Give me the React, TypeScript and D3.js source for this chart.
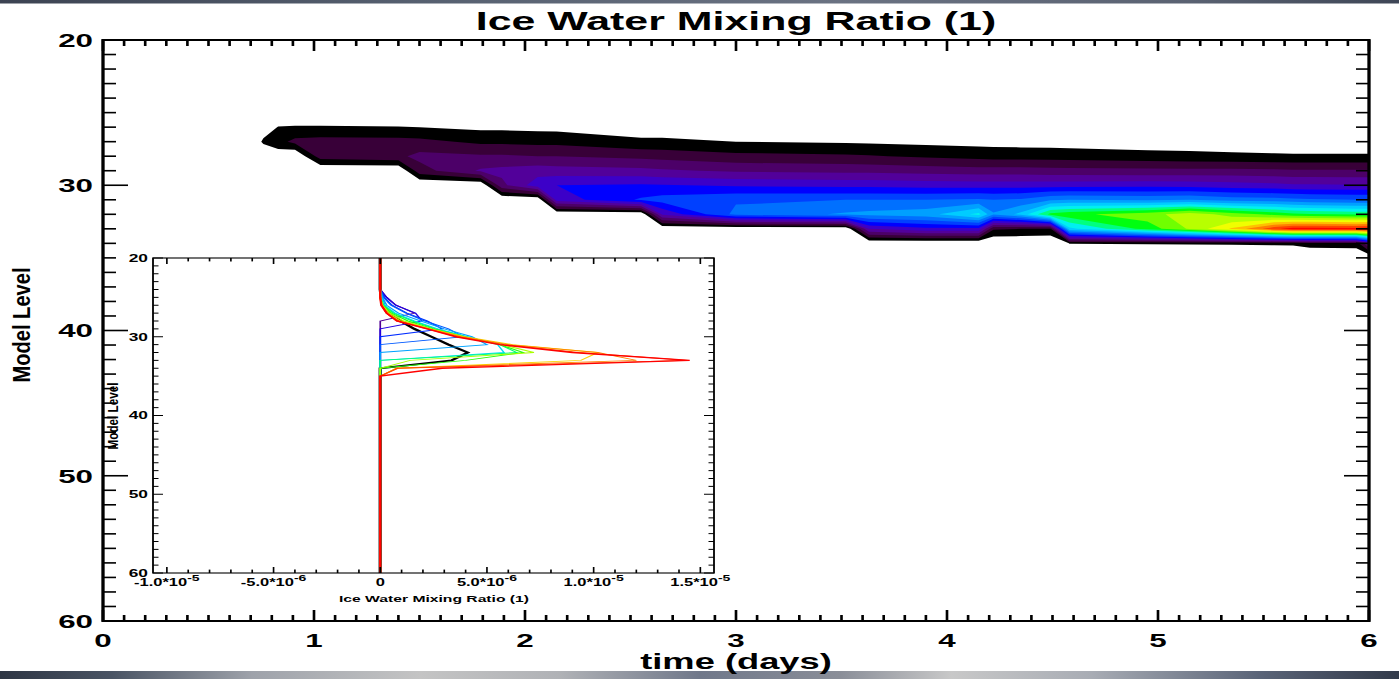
import React from "react";
import * as d3 from "d3";

// The original raster is stretched horizontally; everything is drawn in an
// unstretched space and scaled by S along x.
const S = 1.65;
const X = (px: number) => px / S;

// ---------------- data ----------------
const timeDays = [0, 0.7, 0.76, 0.83, 0.91, 1.03, 1.4, 1.5, 1.79, 1.89, 2.06, 2.15, 2.55, 2.65, 3.0, 3.52, 3.63, 3.9, 4.15, 4.22, 4.35, 4.49, 4.58, 4.95, 5.15, 5.35, 5.55, 5.64, 5.72, 5.94, 6.0];
const modelLevels = [24, 25, 26, 27, 28, 29, 30, 31, 32, 33, 34, 35, 36];
// ice water mixing ratio (units of 1e-6), one profile per time, levels 24..36
const iceProfiles = [
  [0, 0, 0, 0, 0, 0, 0, 0, 0, 0, 0, 0, 0],
  [0, 0, 0.1, 0.3, 0.1, 0, 0, 0, 0, 0, 0, 0, 0],
  [0, 0.1, 0.45, 0.78, 0.3, 0, 0, 0, 0, 0, 0, 0, 0],
  [0, 0.25, 0.72, 1.15, 0.25, 0, 0, 0, 0, 0, 0, 0, 0],
  [0, 0.3, 0.74, 1.6, 0, 0, 0, 0, 0, 0, 0, 0, 0],
  [0, 0.3, 0.74, 1.7, 1.75, 0, 0, 0, 0, 0, 0, 0, 0],
  [0, 0.3, 0.72, 1.65, 1.95, 0, 0, 0, 0, 0, 0, 0, 0],
  [0, 0.3, 0.7, 1.6, 2.3, 1.8, 0, 0, 0, 0, 0, 0, 0],
  [0, 0.2, 0.55, 1.25, 2.2, 2.9, 0, 0, 0, 0, 0, 0, 0],
  [0, 0.2, 0.55, 1.25, 2.2, 3.0, 2.6, 0, 0, 0, 0, 0, 0],
  [0, 0.15, 0.5, 1.2, 2.1, 3.2, 3.9, 0, 0, 0, 0, 0, 0],
  [0, 0.15, 0.48, 1.2, 2.1, 3.1, 4.2, 3.8, 0, 0, 0, 0, 0],
  [0, 0.1, 0.3, 0.85, 1.9, 3.0, 4.3, 5.0, 0, 0, 0, 0, 0],
  [0, 0.1, 0.3, 0.85, 1.85, 2.9, 4.25, 5.2, 3.6, 0, 0, 0, 0],
  [0, 0.05, 0.2, 0.7, 1.6, 2.7, 4.1, 5.5, 5.8, 0, 0, 0, 0],
  [0, 0, 0.15, 0.62, 1.5, 2.6, 4.0, 5.6, 6.4, 0, 0, 0, 0],
  [0, 0, 0.15, 0.6, 1.45, 2.6, 4.0, 5.6, 6.5, 3.5, 0, 0, 0],
  [0, 0, 0.1, 0.52, 1.3, 2.5, 3.9, 5.6, 6.7, 4.0, 0, 0, 0],
  [0, 0, 0.1, 0.48, 1.15, 2.4, 3.9, 5.7, 7.9, 4.0, 0, 0, 0],
  [0, 0, 0.1, 0.46, 1.12, 2.4, 3.9, 5.6, 6.4, 1.5, 0, 0, 0],
  [0, 0, 0.1, 0.44, 1.1, 2.4, 3.9, 5.7, 7.2, 1.4, 0, 0, 0],
  [0, 0, 0.1, 0.42, 1.08, 2.35, 3.9, 6.2, 9.3, 1.3, 0, 0, 0],
  [0, 0, 0.1, 0.41, 1.06, 2.35, 3.9, 6.3, 9.6, 7.5, 0.72, 0, 0],
  [0, 0, 0.08, 0.35, 0.95, 2.3, 3.95, 6.2, 10.2, 9.4, 0.75, 0, 0],
  [0, 0, 0.07, 0.33, 0.9, 2.3, 3.9, 6.3, 10.9, 10.6, 0.76, 0, 0],
  [0, 0, 0.06, 0.3, 0.85, 2.3, 3.8, 6.0, 10.2, 12.0, 0.78, 0, 0],
  [0, 0, 0.05, 0.3, 0.8, 2.25, 3.7, 5.9, 9.6, 13.8, 0.8, 0, 0],
  [0, 0, 0.05, 0.3, 0.78, 2.2, 3.6, 5.8, 9.3, 14.4, 0.82, 0, 0],
  [0, 0, 0.05, 0.3, 0.78, 2.2, 3.6, 5.7, 9.2, 14.4, 1.0, 0, 0],
  [0, 0, 0.05, 0.3, 0.78, 2.2, 3.55, 5.6, 9.0, 14.3, 1.05, 0, 0],
  [0, 0, 0.05, 0.3, 0.78, 2.2, 3.55, 5.6, 9.0, 14.5, 2.9, 0, 0],
];
// black (mean) profile in the inset, levels 24..36
const meanProfile = [0, 0.05, 0.15, 0.4, 0.95, 1.6, 2.4, 3.2, 4.1, 3.35, 0, 0, 0];
// days whose profiles are drawn in the inset
const insetDays = [0.91, 1.4, 1.79, 2.06, 2.55, 3.0, 3.52, 3.9, 4.35, 4.95, 5.35, 5.64, 6.0];

const contourLevels = [0.7, 1.4, 2.1, 2.8, 3.5, 4.2, 4.9, 5.6, 6.3, 7.0, 7.7, 8.4, 9.1, 9.8, 10.5, 11.2, 11.9, 12.6, 13.3, 14.0];

const timeTicks = [0, 1, 2, 3, 4, 5, 6];
const levelTicks = [20, 30, 40, 50, 60];
const insetXTicks = [-10, -5, 0, 5, 10, 15];
const insetXMantissa = ["-1.0*10", "-5.0*10", "0", "5.0*10", "1.0*10", "1.5*10"];
const insetXExponent = ["-5", "-6", "", "-6", "-5", "-5"];

// ---------------- styles ----------------
const bandColors = [
  "#000000", "#380038", "#4c0068", "#52009a", "#3c00c8", "#0000ff", "#0040ff", "#0070ff", "#00a0ff", "#00ccff",
  "#00f0f0", "#00ff80", "#00ff10", "#70ff00", "#b8ff00", "#f0ff00", "#ffc000", "#ff8000", "#ff4000", "#ff0000",
];

const FONT = "'Liberation Sans', Arial, Helvetica, sans-serif";

export default function App() {
  // main plot geometry (final pixels)
  const mL = 103, mR = 1369, mT = 40, mB = 621;
  const xMain = d3.scaleLinear().domain([0, 6]).range([X(mL), X(mR)]);
  const yMain = d3.scaleLinear().domain([20, 60]).range([mT, mB]);

  const nT = timeDays.length;
  const nL = modelLevels.length;
  const grid: number[] = new Array(nT * nL);
  for (let j = 0; j < nL; j++) for (let i = 0; i < nT; i++) grid[j * nT + i] = iceProfiles[i][j];
  const contours = d3.contours().size([nT, nL]).thresholds(contourLevels)(grid);
  const idxToTime = d3.scaleLinear().domain(d3.range(nT)).range(timeDays);
  const idxToLevel = d3.scaleLinear().domain([0, nL - 1]).range([modelLevels[0], modelLevels[nL - 1]]);
  const proj = d3.geoTransform({
    point(x: number, y: number) {
      (this as any).stream.point(xMain(idxToTime(x - 0.5)), yMain(idxToLevel(y - 0.5)));
    },
  });
  const cpath = d3.geoPath(proj as any);

  // inset geometry
  const iL = 153, iR = 714, iT = 258, iB = 573;
  const xIn = d3.scaleLinear().domain([-10.65, 15.64]).range([X(iL), X(iR)]);
  const yIn = d3.scaleLinear().domain([20, 60]).range([iT, iB]);
  const lineColor = d3
    .scaleLinear<string>()
    .domain(d3.range(bandColors.length).map((i) => (i / (bandColors.length - 1)) * 6))
    .range(bandColors)
    .interpolate(d3.interpolateRgb);
  const fullLevels = d3.range(20, 61);
  const profilePoints = (prof: number[]) =>
    fullLevels.map((lv) => {
      const k = modelLevels.indexOf(lv);
      return { lv, v: k >= 0 ? prof[k] : 0 };
    });
  const line = d3
    .line<{ lv: number; v: number }>()
    .x((d) => xIn(d.v))
    .y((d) => yIn(d.lv));

  const mainMinorX = d3.range(0, 61).filter((i) => i % 10 !== 0).map((i) => i / 10);
  const mainMinorY = d3.range(20, 61).filter((v) => v % 10 !== 0);
  const inMinorX = d3.range(-10, 16).filter((v) => v % 5 !== 0);
  const inMinorY = d3.range(20, 61).filter((v) => v % 10 !== 0);

  const xMajLen = 11, xMinLen = 6, yMajLen = X(25), yMinLen = X(13);
  const ixMaj = 6, ixMin = 3.4, iyMaj = X(10), iyMin = X(5.5);

  return (
    <svg
      width={1399}
      height={679}
      style={{ position: "absolute", left: 0, top: 0, display: "block" }}
      fontFamily={FONT}
      fontWeight="bold"
    >
      <defs>
        <linearGradient id="topBar" x1="0" x2="1" y1="0" y2="0">
          <stop offset="0" stopColor="#3c4352" />
          <stop offset="0.3" stopColor="#566070" />
          <stop offset="0.6" stopColor="#6a7282" />
          <stop offset="0.85" stopColor="#5a6272" />
          <stop offset="1" stopColor="#3e4656" />
        </linearGradient>
        <linearGradient id="botBar" x1="0" x2="1" y1="0" y2="0">
          <stop offset="0" stopColor="#2e3644" />
          <stop offset="0.08" stopColor="#4a5464" />
          <stop offset="0.18" stopColor="#9ea2aa" />
          <stop offset="0.3" stopColor="#c4c4c4" />
          <stop offset="0.4" stopColor="#b0b2b6" />
          <stop offset="0.5" stopColor="#70788a" />
          <stop offset="0.6" stopColor="#8a8e98" />
          <stop offset="0.68" stopColor="#c8c8c8" />
          <stop offset="0.78" stopColor="#a8acb4" />
          <stop offset="0.9" stopColor="#5a6478" />
          <stop offset="1" stopColor="#323a4a" />
        </linearGradient>
        <clipPath id="mainClip">
          <rect x={X(mL)} y={mT} width={X(mR) - X(mL)} height={mB - mT} />
        </clipPath>
        <clipPath id="insetClip">
          <rect x={X(iL)} y={iT} width={X(iR) - X(iL)} height={iB - iT} />
        </clipPath>
      </defs>
      <rect x={0} y={0} width={1399} height={679} fill="#ffffff" />
      <rect x={0} y={0} width={1399} height={3.5} fill="url(#topBar)" />
      <rect x={0} y={671} width={1399} height={8} fill="url(#botBar)" />

      <g transform={`scale(${S},1)`}>
        {/* title */}
        <text x={X(736)} y={30} fontSize={26} textAnchor="middle" fill="#000">
          Ice Water Mixing Ratio (1)
        </text>

        {/* filled contours */}
        <g clipPath="url(#mainClip)">
          {contours.map((c, i) => (
            <path key={i} d={cpath(c as any) || ""} fill={bandColors[i]} stroke="none" />
          ))}
        </g>

        {/* main ticks */}
        <g stroke="#000" strokeWidth={1.6}>
          {timeTicks.map((t) => (
            <g key={"tx" + t}>
              <line x1={xMain(t)} x2={xMain(t)} y1={mB} y2={mB - xMajLen} />
              <line x1={xMain(t)} x2={xMain(t)} y1={mT} y2={mT + xMajLen} />
            </g>
          ))}
          {mainMinorX.map((t) => (
            <g key={"mx" + t}>
              <line x1={xMain(t)} x2={xMain(t)} y1={mB} y2={mB - xMinLen} />
              <line x1={xMain(t)} x2={xMain(t)} y1={mT} y2={mT + xMinLen} />
            </g>
          ))}
          {levelTicks.map((v) => (
            <g key={"ty" + v}>
              <line x1={X(mL)} x2={X(mL) + yMajLen} y1={yMain(v)} y2={yMain(v)} />
              <line x1={X(mR)} x2={X(mR) - yMajLen} y1={yMain(v)} y2={yMain(v)} />
            </g>
          ))}
          {mainMinorY.map((v) => (
            <g key={"my" + v}>
              <line x1={X(mL)} x2={X(mL) + yMinLen} y1={yMain(v)} y2={yMain(v)} />
              <line x1={X(mR)} x2={X(mR) - yMinLen} y1={yMain(v)} y2={yMain(v)} />
            </g>
          ))}
        </g>
        <rect x={X(mL)} y={mT} width={X(mR) - X(mL)} height={mB - mT} fill="none" stroke="#000" strokeWidth={2} />

        {/* main tick labels */}
        {timeTicks.map((t) => (
          <text key={"lx" + t} x={xMain(t)} y={647} fontSize={19} textAnchor="middle">
            {t}
          </text>
        ))}
        {levelTicks.map((v) => (
          <text key={"ly" + v} x={X(93)} y={yMain(v) + 7} fontSize={19} textAnchor="end">
            {v}
          </text>
        ))}
        <text x={X(736)} y={669} fontSize={22} textAnchor="middle">
          time (days)
        </text>
        <text
          transform={`translate(${X(30)},325) rotate(-90)`}
          fontSize={15}
          textAnchor="middle"
          textLength={115}
          lengthAdjust="spacingAndGlyphs"
        >
          Model Level
        </text>

        {/* inset */}
        <rect x={X(iL)} y={iT} width={X(iR) - X(iL)} height={iB - iT} fill="#fff" />
        <g clipPath="url(#insetClip)" fill="none">
          <path d={line(profilePoints(meanProfile)) || ""} stroke="#000" strokeWidth={2} />
          {insetDays.map((day) => {
            const k = timeDays.indexOf(day);
            return (
              <path
                key={"p" + day}
                d={line(profilePoints(iceProfiles[k])) || ""}
                stroke={lineColor(day)}
                strokeWidth={day === 6 ? 1.4 : 1}
              />
            );
          })}
        </g>
        <g stroke="#000" strokeWidth={1}>
          {insetXTicks.map((v) => (
            <g key={"ix" + v}>
              <line x1={xIn(v)} x2={xIn(v)} y1={iB} y2={iB - ixMaj} />
              <line x1={xIn(v)} x2={xIn(v)} y1={iT} y2={iT + ixMaj} />
            </g>
          ))}
          {inMinorX.map((v) => (
            <g key={"imx" + v}>
              <line x1={xIn(v)} x2={xIn(v)} y1={iB} y2={iB - ixMin} />
              <line x1={xIn(v)} x2={xIn(v)} y1={iT} y2={iT + ixMin} />
            </g>
          ))}
          {levelTicks.map((v) => (
            <g key={"iy" + v}>
              <line x1={X(iL)} x2={X(iL) + iyMaj} y1={yIn(v)} y2={yIn(v)} />
              <line x1={X(iR)} x2={X(iR) - iyMaj} y1={yIn(v)} y2={yIn(v)} />
            </g>
          ))}
          {inMinorY.map((v) => (
            <g key={"imy" + v}>
              <line x1={X(iL)} x2={X(iL) + iyMin} y1={yIn(v)} y2={yIn(v)} />
              <line x1={X(iR)} x2={X(iR) - iyMin} y1={yIn(v)} y2={yIn(v)} />
            </g>
          ))}
        </g>
        <rect x={X(iL)} y={iT} width={X(iR) - X(iL)} height={iB - iT} fill="none" stroke="#000" strokeWidth={1.1} />
        {insetXTicks.map((v, i) => (
          <text key={"ilx" + v} x={xIn(v)} y={586} fontSize={10} textAnchor="middle">
            <tspan>{insetXMantissa[i]}</tspan>
            {insetXExponent[i] ? (
              <tspan dy={-5} fontSize={8.5}>
                {insetXExponent[i]}
              </tspan>
            ) : null}
          </text>
        ))}
        {levelTicks.map((v) => (
          <text key={"ily" + v} x={X(148)} y={yIn(v) + 4} fontSize={10.5} textAnchor="end">
            {v}
          </text>
        ))}
        <text x={X(434)} y={602} fontSize={9.5} textAnchor="middle">
          Ice Water Mixing Ratio (1)
        </text>
        <text
          transform={`translate(${X(118)},416) rotate(-90)`}
          fontSize={8.5}
          textAnchor="middle"
          textLength={67}
          lengthAdjust="spacingAndGlyphs"
        >
          Model Level
        </text>
      </g>
    </svg>
  );
}
